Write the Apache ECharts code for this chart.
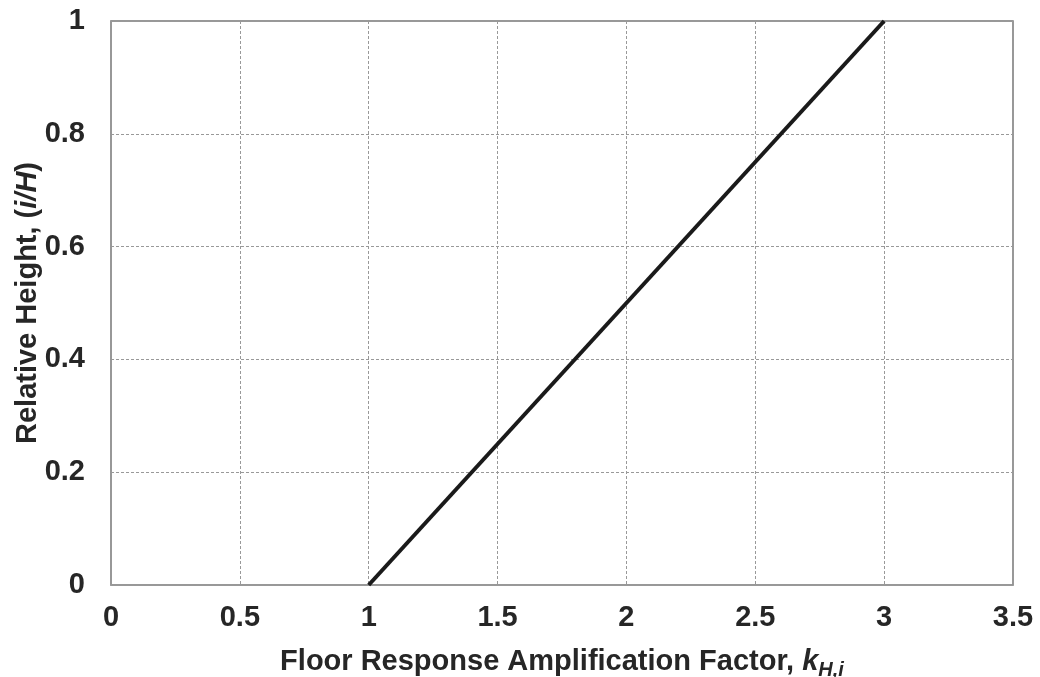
<!DOCTYPE html>
<html><head><meta charset="utf-8">
<script src="https://cdn.jsdelivr.net/npm/echarts@6/dist/echarts.min.js"></script>
<style>html,body{margin:0;padding:0;background:#fff}#c{width:1040px;height:677px}</style>
</head><body><div id="c"></div>
<script>
const kValues = [1, 3];
const relHeight = [0, 1];
const xTicks = [0, 0.5, 1, 1.5, 2, 2.5, 3, 3.5];
const yTicks = [0, 0.2, 0.4, 0.6, 0.8, 1];

const chart = echarts.init(document.getElementById('c'));
const F = 'Liberation Sans, Arial, sans-serif';
const C = '#262626';
chart.setOption({
  animation: false,
  grid: {left: 111, right: 27, top: 21, bottom: 92, show: true, borderColor: '#777', borderWidth: 1.5,
    containLabel: false, outerBoundsMode: 'none'},
  xAxis: {
    type: 'value', min: 0, max: 3.5, interval: 0.5,
    axisLine: {show: true, lineStyle: {color: '#999', width: 1.5}},
    axisTick: {show: false},
    splitLine: {show: true, lineStyle: {color: '#999', type: [3, 2], width: 1}},
    axisLabel: {color: C, fontFamily: F, fontWeight: 'bold', fontSize: 29, margin: 18,
      formatter: v => String(v)},
    name: '{n|Floor Response Amplification Factor, }{k|k}{s|H,i}',
    nameLocation: 'middle', nameGap: 59, nameMoveOverlap: false,
    nameTextStyle: {rich: {
      n: {fontFamily: F, fontWeight: 'bold', fontSize: 29, color: C},
      k: {fontFamily: F, fontWeight: 'bold', fontStyle: 'italic', fontSize: 29, color: C},
      s: {fontFamily: F, fontWeight: 'bold', fontStyle: 'italic', fontSize: 20, color: C, verticalAlign: 'bottom', padding: [16, 0, 0, 0]}
    }}
  },
  yAxis: {
    type: 'value', min: 0, max: 1, interval: 0.2,
    axisLine: {show: true, lineStyle: {color: '#999', width: 1.5}},
    axisTick: {show: false},
    splitLine: {show: true, lineStyle: {color: '#999', type: [3, 2], width: 1}},
    axisLabel: {color: C, fontFamily: F, fontWeight: 'bold', fontSize: 29, margin: 26,
      formatter: v => String(Math.round(v * 10) / 10)},
    name: '{n|Relative Height, (}{i|i/H}{n|)}',
    nameLocation: 'middle', nameGap: 69, nameRotate: 90, nameMoveOverlap: false,
    nameTextStyle: {rich: {
      n: {fontFamily: F, fontWeight: 'bold', fontSize: 29, color: C},
      i: {fontFamily: F, fontWeight: 'bold', fontStyle: 'italic', fontSize: 29, color: C}
    }}
  },
  series: [{
    type: 'line', data: kValues.map((k, i) => [k, relHeight[i]]),
    showSymbol: false, lineStyle: {color: '#1a1a1a', width: 4}
  }]
});
</script></body></html>
